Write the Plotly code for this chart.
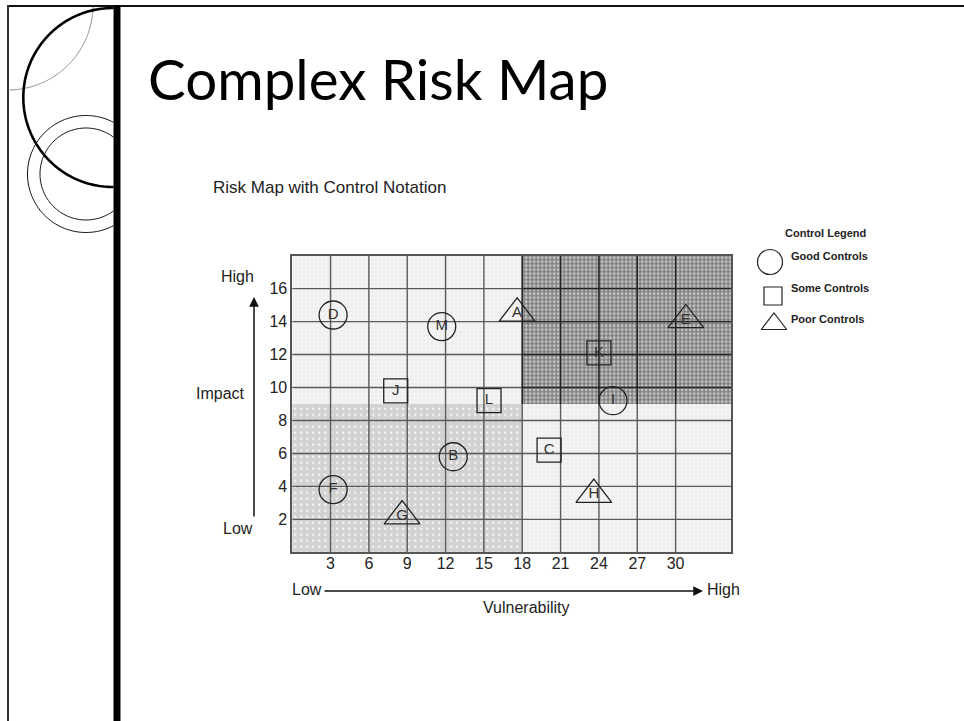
import numpy as np
import plotly.graph_objects as go

W, H = 964, 721

# ---------------- data ----------------
x_ticks = [3, 6, 9, 12, 15, 18, 21, 24, 27, 30]
y_ticks = [2, 4, 6, 8, 10, 12, 14, 16]
x_max = 34.35
y_max = 18

zone_x0 = [0, 0, 18, 18]
zone_x1 = [18, 18, 34.35, 34.35]
zone_y0 = [0, 9, 0, 9]
zone_y1 = [9, 18, 9, 18]

good_labels = ["D", "M", "I", "B", "F"]
good_x = [3.2, 11.7, 25.1, 12.6, 3.2]
good_y = [14.4, 13.7, 9.2, 5.8, 3.8]

some_labels = ["J", "L", "K", "C"]
some_x = [8.1, 15.4, 24.0, 20.1]
some_y = [9.8, 9.2, 12.1, 6.2]

poor_labels = ["A", "E", "H", "G"]
poor_x = [17.6, 30.8, 23.6, 8.6]
poor_y = [14.5, 14.1, 3.5, 2.2]

legend_labels = ["Good Controls", "Some Controls", "Poor Controls"]

# ---------------- helpers ----------------
def PX(x):
    return x / W


def PY(y):
    return 1 - y / H


FONT = "Liberation Sans"
TXT = "#222222"

fig = go.Figure()

# zones (textured), one bar trace per zone
zone_bg = ["#d2d2d2", "#efefef", "#efefef", "#7e7e7e"]
zone_fg = ["#f8f8f8", "#fcfcfc", "#fcfcfc", "#cacaca"]
zone_size = [6, 4, 4, 4]
zone_sol = [0.12, 0.2, 0.2, 0.4]
for i in range(4):
    fig.add_trace(go.Bar(
        x=[(zone_x0[i] + zone_x1[i]) / 2],
        y=[zone_y1[i] - zone_y0[i]],
        base=[zone_y0[i]],
        width=[zone_x1[i] - zone_x0[i]],
        marker=dict(color=zone_bg[i], line=dict(width=0),
                    pattern=dict(shape=".", fillmode="replace", bgcolor=zone_bg[i],
                                 fgcolor=zone_fg[i], size=zone_size[i],
                                 solidity=zone_sol[i])),
        hoverinfo="skip", showlegend=False))

# grid lines drawn over the zones
gx, gy = [], []
for t in x_ticks:
    gx += [t, t, None]
    gy += [0, y_max, None]
for t in y_ticks:
    gx += [0, x_max, None]
    gy += [t, t, None]
fig.add_trace(go.Scatter(x=gx, y=gy, mode="lines",
                         line=dict(color="#5a5a5a", width=1.4),
                         hoverinfo="skip", showlegend=False))

# darker grid segments inside the high/high zone
dx0, dx1, dy0, dy1 = zone_x0[3], zone_x1[3], zone_y0[3], zone_y1[3]
hx, hy = [], []
for t in x_ticks:
    if dx0 <= t <= dx1:
        hx += [t, t, None]
        hy += [dy0, dy1, None]
for t in y_ticks:
    if dy0 <= t <= dy1:
        hx += [dx0, dx1, None]
        hy += [t, t, None]
fig.add_trace(go.Scatter(x=hx, y=hy, mode="lines",
                         line=dict(color="#262626", width=1.4),
                         hoverinfo="skip", showlegend=False))


def mark_trace(xs, ys, labels, symbol, size):
    return go.Scatter(
        x=xs, y=ys, mode="markers+text", text=labels, textposition="middle center",
        marker=dict(symbol=symbol, size=size, color="rgba(0,0,0,0)",
                    line=dict(color="#222222", width=1.3)),
        textfont=dict(family=FONT, size=15, color="#333333"),
        cliponaxis=False, hoverinfo="skip", showlegend=False)


fig.add_trace(mark_trace(good_x, good_y, good_labels, "circle", 28))
fig.add_trace(mark_trace(some_x, some_y, some_labels, "square", 24))
fig.add_trace(mark_trace(poor_x, poor_y, poor_labels, "triangle-up", 31))

# manual legend (hidden axis 2, pixel-like units)
lg_x = [770, 773, 774]
lg_y = [262, 296, 324]
lg_sym = ["circle", "square", "triangle-up"]
lg_size = [25, 18, 22]
for i in range(3):
    fig.add_trace(go.Scatter(
        x=[lg_x[i]], y=[lg_y[i]], xaxis="x2", yaxis="y2", mode="markers",
        marker=dict(symbol=lg_sym[i], size=lg_size[i], color="rgba(0,0,0,0)",
                    line=dict(color="#222222", width=1.2)),
        hoverinfo="skip", showlegend=False, cliponaxis=False))

axis_common = dict(showgrid=False, zeroline=False, showline=True, mirror=True,
                   linecolor="#555555", linewidth=1.5, ticks="",
                   tickfont=dict(family=FONT, size=16, color=TXT), fixedrange=True)

fig.update_layout(
    width=W, height=H,
    margin=dict(l=0, r=0, t=0, b=0),
    paper_bgcolor="white", plot_bgcolor="white",
    barmode="overlay",
    xaxis=dict(domain=[PX(292.2), PX(731.2)], range=[0, x_max], tickvals=x_ticks,
               ticktext=[str(t) for t in x_ticks], anchor="y", ticklabelstandoff=-4,
               **axis_common),
    yaxis=dict(domain=[PY(552.3), PY(255.7)], range=[0, y_max], tickvals=y_ticks,
               ticktext=[str(t) for t in y_ticks], anchor="x", **axis_common),
    xaxis2=dict(domain=[PX(740), PX(900)], range=[740, 900], visible=False, fixedrange=True),
    yaxis2=dict(domain=[PY(345), PY(215)], range=[345, 215], visible=False, fixedrange=True,
                anchor="x2"),
    showlegend=False,
)

# ---------------- decorations (slide frame) ----------------
shapes = []
shapes.append(dict(type="line", xref="paper", yref="paper", x0=PX(8), x1=PX(964),
                   y0=PY(6), y1=PY(6), line=dict(color="#111111", width=2)))
shapes.append(dict(type="line", xref="paper", yref="paper", x0=PX(8), x1=PX(8),
                   y0=PY(5), y1=PY(721), line=dict(color="#333333", width=2)))


def arc_path(cx, cy, r, t0, t1, n=120):
    ts = np.linspace(t0, t1, n)
    pts = [(PX(cx + r * np.cos(t)), PY(cy + r * np.sin(t))) for t in ts]
    return "M " + " L ".join(f"{x:.5f},{y:.5f}" for x, y in pts)


def left_arc(cx, cy, r, xclip=113.5):
    c = (xclip - cx) / r
    c = max(-1, min(1, c))
    t0 = np.arccos(c)
    return arc_path(cx, cy, r, t0, 2 * np.pi - t0)


shapes.append(dict(type="path", xref="paper", yref="paper",
                   path=arc_path(8, 5, 85, 0.02, np.pi / 2 - 0.02),
                   line=dict(color="#8a8a8a", width=1)))
shapes.append(dict(type="path", xref="paper", yref="paper",
                   path=left_arc(86, 174, 58.5), line=dict(color="#111111", width=1)))
shapes.append(dict(type="path", xref="paper", yref="paper",
                   path=left_arc(86, 174, 46), line=dict(color="#111111", width=1)))
shapes.append(dict(type="path", xref="paper", yref="paper",
                   path=left_arc(112.8, 97.5, 89.5), line=dict(color="#000000", width=2.6)))
shapes.append(dict(type="rect", xref="paper", yref="paper", x0=PX(113.5), x1=PX(120.5),
                   y0=PY(721), y1=PY(5), fillcolor="#000000", line=dict(width=0)))
fig.update_layout(shapes=shapes)

# ---------------- text & arrows ----------------
ann = []


def txt(text, x, y, size=16, xanchor="center", family=FONT, color=TXT, bold=False):
    ann.append(dict(text=f"<b>{text}</b>" if bold else text, x=PX(x), y=PY(y),
                    xref="paper", yref="paper", showarrow=False, xanchor=xanchor,
                    yanchor="middle", font=dict(family=family, size=size, color=color)))


txt("Complex Risk Map", 146, 78, size=56.5, xanchor="left", family="Lato", color="#000000")
txt("Risk Map with Control Notation", 211, 187, size=17, xanchor="left")
txt("High", 237, 276)
txt("Impact", 247, 393, xanchor="right")
txt("Low", 238, 528)
txt("Low", 324, 589, xanchor="right")
txt("High", 705, 589, xanchor="left")
txt("Vulnerability", 526, 607)

txt("Control Legend", 825, 233, size=11, bold=True)
for lab, yy in zip(legend_labels, [256, 288, 319]):
    txt(lab, 789, yy, size=11, xanchor="left", bold=True)

ann.append(dict(text="", x=PX(254), y=PY(297), xref="paper", yref="paper",
                ax=0, ay=221, showarrow=True, arrowhead=2, arrowsize=1.3,
                arrowwidth=1.5, arrowcolor="#111111", standoff=0))
ann.append(dict(text="", x=PX(703), y=PY(591), xref="paper", yref="paper",
                ax=-380, ay=0, showarrow=True, arrowhead=2, arrowsize=1.3,
                arrowwidth=1.5, arrowcolor="#111111", standoff=0))
fig.update_layout(annotations=ann)

fig.write_html("out.html", config={"displayModeBar": False},
               post_script="document.body.style.margin='0';document.body.style.padding='0';")
